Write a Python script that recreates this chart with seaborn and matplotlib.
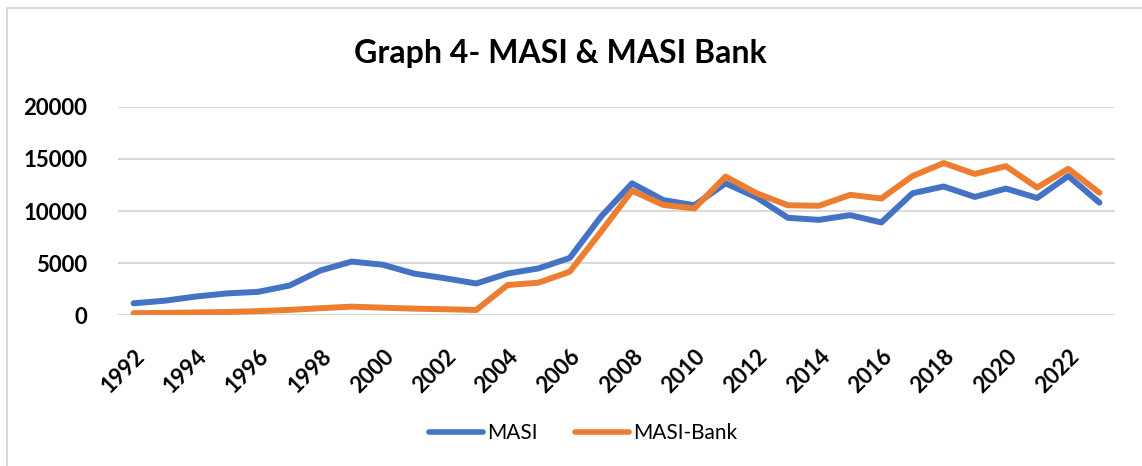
import pandas as pd
import seaborn as sns
import matplotlib.pyplot as plt
from matplotlib.lines import Line2D

years = list(range(1992, 2024))
masi = [1150, 1400, 1800, 2100, 2250, 2850, 4300, 5150, 4850, 4000, 3550, 3050,
        4000, 4500, 5500, 9450, 12650, 11050, 10550, 12650, 11300, 9350, 9150, 9600,
        8900, 11700, 12350, 11350, 12150, 11250, 13350, 10800]
masi_bank = [200, 230, 270, 320, 400, 520, 680, 830, 730, 640, 580, 510,
             2900, 3130, 4180, 8000, 11950, 10580, 10250, 13300, 11700, 10550, 10500, 11550,
             11200, 13350, 14600, 13550, 14300, 12250, 14050, 11750]
series_names = ['MASI', 'MASI-Bank']
colors = ['#4472C4', '#ED7D31']
tick_years = years[::2]

sns.set_theme(style="white")
plt.rcParams['font.family'] = ['Lato', 'DejaVu Sans']
plt.rcParams['text.color'] = 'black'
plt.rcParams['xtick.color'] = 'black'
plt.rcParams['ytick.color'] = 'black'

df = pd.DataFrame({'year': years * 2,
                   'value': masi + masi_bank,
                   'series': [series_names[0]] * len(years) + [series_names[1]] * len(years)})

fig = plt.figure(figsize=(11.42, 4.66), dpi=100)
ax = fig.add_axes([118 / 1142, 1 - 315.3 / 466, (1115 - 118) / 1142, (315.3 - 106.7) / 466])

sns.lineplot(data=df, x='year', y='value', hue='series', palette=colors,
             linewidth=4.3, ax=ax, legend=False)

ax.set_xlim(1991.5, 2023.5)
ax.set_ylim(0, 20000)
ax.set_yticks([0, 5000, 10000, 15000, 20000])
ax.set_xticks(tick_years)
ax.set_xticklabels([str(y) for y in tick_years], rotation=45, ha='right',
                   rotation_mode='anchor', fontweight='bold', fontsize=16)
for lab in ax.get_yticklabels():
    lab.set_fontweight('bold')
    lab.set_fontsize(16)
ax.tick_params(axis='x', length=0, pad=22)
ax.tick_params(axis='y', length=0, pad=22)
ax.grid(axis='y', color='#D9D9D9', linewidth=1.5)
ax.set_axisbelow(True)
for s in ax.spines.values():
    s.set_visible(False)
ax.set_xlabel('')
ax.set_ylabel('')

fig.text(560 / 1142, 1 - 53 / 466, 'Graph 4- MASI & MASI Bank', ha='center', va='center',
         fontsize=23, fontweight='bold')

handles = [Line2D([0], [0], color=c, linewidth=4, solid_capstyle='round') for c in colors]
fig.legend(handles, series_names, loc='center', bbox_to_anchor=(583 / 1142, 1 - 433 / 466),
           ncol=2, frameon=False, fontsize=15, handlelength=2.6, handletextpad=0.2,
           columnspacing=1.8)

# chart border (top and left edges visible)
fig.add_artist(Line2D([7 / 1142, 7 / 1142], [0, 1 - 7.5 / 466], color='#D9D9D9', linewidth=1.5))
fig.add_artist(Line2D([7 / 1142, 1], [1 - 7.5 / 466, 1 - 7.5 / 466], color='#D9D9D9', linewidth=1.5))

fig.savefig('out.png', dpi=100)
